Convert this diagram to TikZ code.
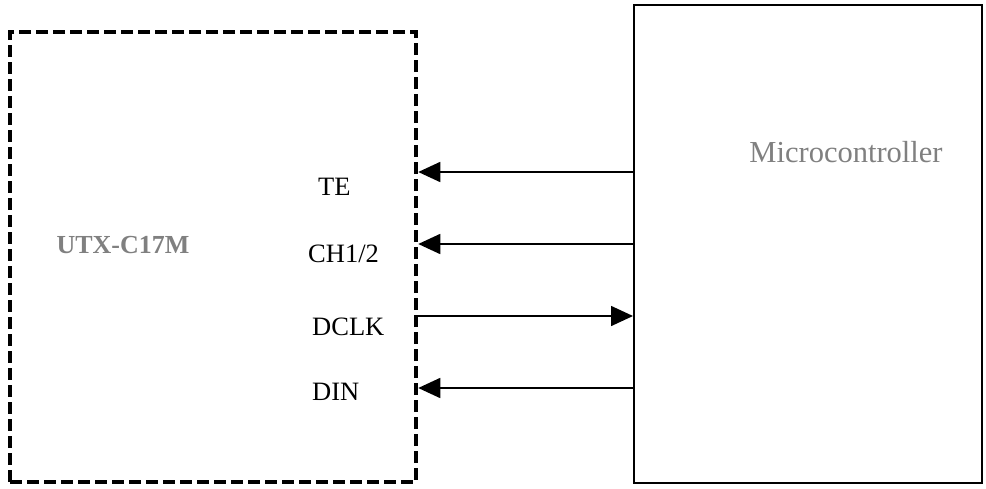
\documentclass[tikz,border=0pt]{standalone}
\usepackage{fontspec}
\setmainfont{Liberation Serif}
\usetikzlibrary{arrows.meta}
\definecolor{lblgray}{HTML}{808080}
\tikzset{
  x=1pt,y=-1pt,
  chipbox/.style={draw,line width=4.5pt,dash pattern=on 12pt off 5pt,minimum width=406pt,minimum height=450pt,inner sep=0pt},
  mcubox/.style={draw,line width=2pt,minimum width=348pt,minimum height=478pt,inner sep=0pt},
  sig/.style={line width=1.6pt,-{Triangle[length=22pt,width=20pt]}},
  pin/.style={anchor=base west,font=\fontsize{26.5}{31}\selectfont,inner sep=0pt}
}
\begin{document}
\begin{tikzpicture}
\useasboundingbox (0,0) rectangle (986,488);
\node[chipbox] (utx) at (213,257) {};
\node[mcubox] (mcu) at (808,244) {};
\node[font=\fontsize{26}{31}\selectfont\bfseries,text=lblgray,anchor=base] (utxlbl) at (123,253) {UTX-C17M};
\node[font=\fontsize{30.5}{36}\selectfont,text=lblgray,anchor=base] (mculbl) at (846,162) {Microcontroller};
\node[pin] (te) at (318,195) {TE};
\node[pin] (ch) at (308,262) {CH1/2};
\node[pin] (dclk) at (312,335) {DCLK};
\node[pin] (din) at (312,400) {DIN};
\coordinate (yte) at (0,172);
\coordinate (ych) at (0,244);
\coordinate (ydclk) at (0,316);
\coordinate (ydin) at (0,388);
\draw[sig] (mcu.west |- yte) -- (utx.east |- yte);
\draw[sig] (mcu.west |- ych) -- (utx.east |- ych);
\draw[sig] (utx.east |- ydclk) -- (mcu.west |- ydclk);
\draw[sig] (mcu.west |- ydin) -- (utx.east |- ydin);
\end{tikzpicture}
\end{document}
